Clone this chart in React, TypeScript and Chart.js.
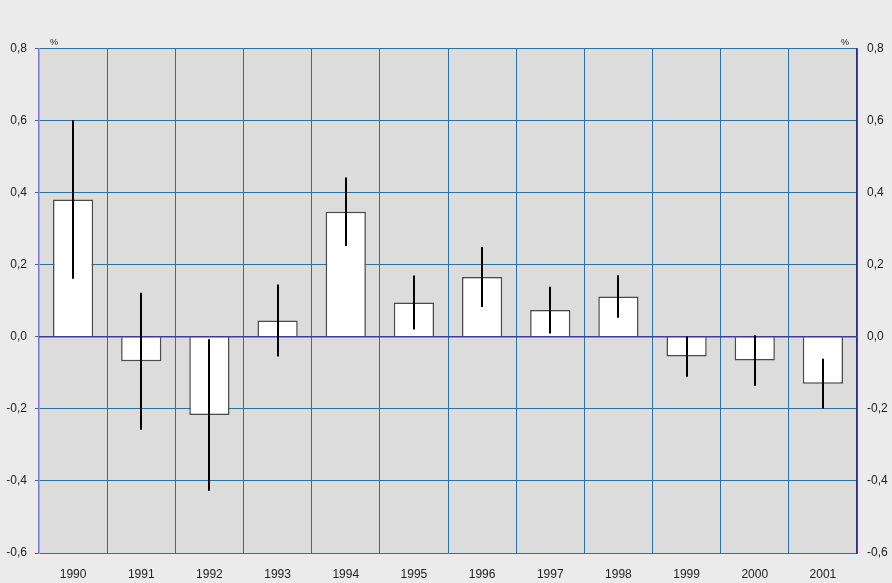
import React, { useEffect, useRef } from "react";
import { Chart, registerables } from "chart.js";

Chart.register(...registerables);

const years = ["1990", "1991", "1992", "1993", "1994", "1995", "1996", "1997", "1998", "1999", "2000", "2001"];
const values = [0.381, -0.068, -0.217, 0.045, 0.347, 0.095, 0.166, 0.074, 0.112, -0.055, -0.066, -0.130];
const errHalf = [0.22, 0.19, 0.21, 0.10, 0.095, 0.075, 0.083, 0.065, 0.059, 0.056, 0.07, 0.069];
const yMin = -0.6;
const yMax = 0.8;
const yStep = 0.2;

const fmt = (v: number) => v.toFixed(1).replace(".", ",").replace("-0,0", "0,0");

const bgPlugin = {
  id: "bgPlugin",
  beforeDraw(chart: any) {
    const { ctx, chartArea } = chart;
    ctx.save();
    ctx.fillStyle = "#ebebeb";
    ctx.fillRect(0, 0, chart.width, chart.height);
    ctx.fillStyle = "#dcdcdc";
    ctx.fillRect(chartArea.left, chartArea.top, chartArea.right - chartArea.left, chartArea.bottom - chartArea.top);
    ctx.restore();
  },
};

const overlayPlugin = {
  id: "overlayPlugin",
  afterDatasetsDraw(chart: any) {
    const { ctx, chartArea } = chart;
    const ys = chart.scales.y;
    const meta = chart.getDatasetMeta(0);
    ctx.save();
    // zero line
    const y0 = ys.getPixelForValue(0);
    ctx.strokeStyle = "#3c3c9c";
    ctx.lineWidth = 1.5;
    ctx.beginPath();
    ctx.moveTo(chartArea.left, y0);
    ctx.lineTo(chartArea.right, y0);
    ctx.stroke();
    // error bars
    ctx.strokeStyle = "#000";
    ctx.lineWidth = 2;
    meta.data.forEach((bar: any, i: number) => {
      const v = values[i];
      const e = errHalf[i];
      const x = Math.round(bar.x) + 0.0;
      ctx.beginPath();
      ctx.moveTo(x, ys.getPixelForValue(v + e));
      ctx.lineTo(x, ys.getPixelForValue(v - e));
      ctx.stroke();
    });
    // % labels
    ctx.fillStyle = "#222";
    ctx.font = "9px 'Liberation Sans', Arial, sans-serif";
    ctx.textAlign = "center";
    ctx.textBaseline = "middle";
    ctx.fillText("%", chartArea.left + 15, chartArea.top - 6);
    ctx.fillText("%", chartArea.right - 12, chartArea.top - 6);
    ctx.restore();
  },
};

export default function App() {
  const ref = useRef<HTMLCanvasElement | null>(null);
  useEffect(() => {
    document.body.style.margin = "0";
    const canvas = ref.current!;
    const chart = new Chart(canvas, {
      type: "bar",
      data: {
        labels: years,
        datasets: [
          {
            data: values,
            backgroundColor: "#ffffff",
            borderColor: "#4a4a4a",
            borderWidth: 1.5,
            barPercentage: 0.59,
            categoryPercentage: 1,
          },
        ],
      },
      options: {
        animation: false,
        responsive: false,
        maintainAspectRatio: false,
        layout: { padding: { top: 48.5, left: 0, right: 0, bottom: 0 } },
        plugins: { legend: { display: false }, tooltip: { enabled: false } },
        scales: {
          x: {
            grid: { display: true, offset: true, color: "#2a72a5", lineWidth: 1, drawTicks: false },
            border: { display: false },
            ticks: {
              color: "#222",
              font: { family: "'Liberation Sans', Arial, sans-serif", size: 12 },
              padding: 14,
            },
            afterFit(scale: any) {
              scale.height = 30;
            },
          },
          y: {
            position: "left",
            min: yMin,
            max: yMax,
            grid: { color: "#2a72a5", lineWidth: 1, drawTicks: true, tickLength: 4 },
            border: { display: true, color: "#7878cc", width: 1.5 },
            ticks: {
              stepSize: yStep,
              color: "#222",
              font: { family: "'Liberation Sans', Arial, sans-serif", size: 12 },
              padding: 8,
              callback: (v: any) => fmt(Number(v)),
            },
            afterFit(scale: any) {
              scale.width = 39;
            },
          },
          y2: {
            position: "right",
            min: yMin,
            max: yMax,
            grid: { display: false, drawTicks: false },
            border: { display: true, color: "#2e2e8e", width: 1.5 },
            ticks: {
              stepSize: yStep,
              color: "#222",
              font: { family: "'Liberation Sans', Arial, sans-serif", size: 12 },
              padding: 10,
              callback: (v: any) => fmt(Number(v)),
            },
            afterFit(scale: any) {
              scale.width = 35;
            },
          },
        },
      },
      plugins: [bgPlugin, overlayPlugin],
    });
    return () => chart.destroy();
  }, []);
  return (
    <div style={{ width: 892, height: 583 }}>
      <canvas ref={ref} width={892} height={583} style={{ display: "block" }} />
    </div>
  );
}
